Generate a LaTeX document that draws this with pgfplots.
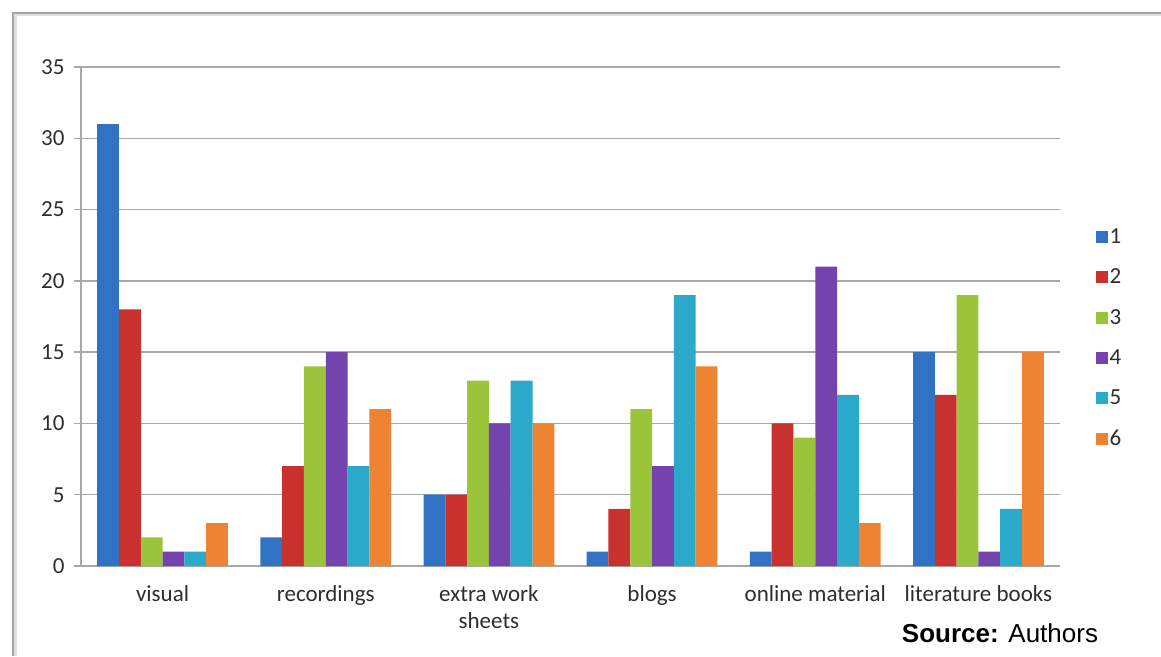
\documentclass[border=0pt]{standalone}
\usepackage{pgfplots}
\pgfplotsset{compat=1.18}
\usepackage{fontspec}
\setmainfont{Carlito}
\newfontfamily\arialfont{Liberation Sans}

\definecolor{sOne}{HTML}{3072C4}
\definecolor{sTwo}{HTML}{C8312E}
\definecolor{sThree}{HTML}{9BC43A}
\definecolor{sFour}{HTML}{7443AE}
\definecolor{sFive}{HTML}{2BA9CB}
\definecolor{sSix}{HTML}{EE8433}
\definecolor{gridgray}{HTML}{A8A8A8}
\definecolor{txt}{HTML}{2E2E2E}

\begin{document}
\begin{tikzpicture}
\path[use as bounding box] (0pt,0pt) rectangle (1161pt,656pt);
\fill[white] (0pt,0pt) rectangle (1161pt,656pt);
% frame with a soft shadow
\draw[black!12, line width=3pt] (15pt,0pt) -- (15pt,641pt) -- (1161pt,641pt);
\draw[black!35, line width=1.2pt] (13pt,0pt) -- (13pt,643pt) -- (1161pt,643pt);

\begin{axis}[
  at={(81pt,90pt)}, anchor=south west,
  scale only axis, width=979pt, height=499pt,
  ybar=0pt, bar width=21.8pt,
  xmin=-0.5, xmax=5.5, ymin=0, ymax=35,
  ytick={0,5,...,35},
  xtick={0,...,5},
  xticklabels={visual,recordings,{extra work\\sheets},blogs,online material,literature books},
  minor xtick={-0.5,0.5,...,5.5},
  axis x line*=bottom, axis y line*=left,
  axis line style={gridgray, line width=1.3pt, -},
  ymajorgrids, grid style={gridgray, line width=1.3pt},
  tick align=outside,
  major tick length=7pt, minor tick length=8pt,
  xtick style={draw=none},
  ytick style={gridgray, line width=1.3pt},
  minor tick style={gridgray, line width=1.3pt},
  tick label style={font=\fontsize{23}{27}\selectfont, text=txt},
  xticklabel style={align=center, yshift=-9pt},
  yticklabel style={xshift=-6pt},
  /pgf/number format/assume math mode=true,
  legend style={at={(1.033,0.457)}, anchor=west, draw=none, fill=none,
    font=\fontsize{23}{27}\selectfont, text=txt, row sep=20pt,
    /tikz/every even column/.append style={column sep=4pt}},
  legend image code/.code={\fill[#1] (0pt,-6pt) rectangle (12pt,6pt);},
  legend cell align=left,
]
\addplot[fill=sOne, draw=none] coordinates {(0,31) (1,2) (2,5) (3,1) (4,1) (5,15)};
\addplot[fill=sTwo, draw=none] coordinates {(0,18) (1,7) (2,5) (3,4) (4,10) (5,12)};
\addplot[fill=sThree, draw=none] coordinates {(0,2) (1,14) (2,13) (3,11) (4,9) (5,19)};
\addplot[fill=sFour, draw=none] coordinates {(0,1) (1,15) (2,10) (3,7) (4,21) (5,1)};
\addplot[fill=sFive, draw=none] coordinates {(0,1) (1,7) (2,13) (3,19) (4,12) (5,4)};
\addplot[fill=sSix, draw=none] coordinates {(0,3) (1,11) (2,10) (3,14) (4,3) (5,15)};
\legend{1,2,3,4,5,6}
\end{axis}

\node[anchor=base, font=\arialfont\fontsize{26}{30}\selectfont] at (1000pt,14pt) {\textbf{Source:} Authors};
\end{tikzpicture}
\end{document}
